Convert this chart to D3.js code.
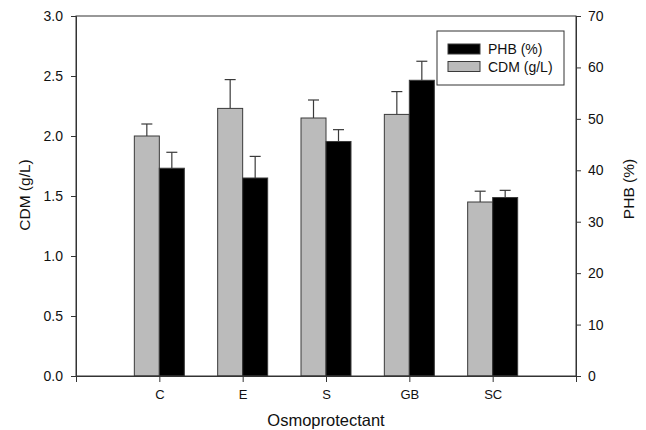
<!DOCTYPE html>
<html>
<head>
<meta charset="utf-8">
<script src="https://cdn.jsdelivr.net/npm/d3@7"></script>
<style>
  body { margin: 0; background: #fff; }
  svg { display: block; font-family: "Liberation Sans", Arial, sans-serif; }
</style>
</head>
<body>
<div id="chart"></div>
<script>
// data
var categories = ["C", "E", "S", "GB", "SC"];
var cdmValues = [2.00, 2.23, 2.15, 2.18, 1.45];
var cdmErrors = [0.10, 0.24, 0.15, 0.19, 0.09];
var phbValues = [40.4, 38.5, 45.6, 57.5, 34.7];
var phbErrors = [3.1, 4.2, 2.3, 3.7, 1.4];
var cdmTicks = [0, 0.5, 1.0, 1.5, 2.0, 2.5, 3.0];
var phbTicks = [0, 10, 20, 30, 40, 50, 60, 70];

var width = 646, height = 430;
var margin = {top: 16, right: 70, bottom: 54, left: 76};
var plotW = width - margin.left - margin.right;
var plotH = height - margin.top - margin.bottom;

var svg = d3.select("#chart")
  .append("svg")
    .attr("width", width)
    .attr("height", height);

var g = svg.append("g")
    .attr("transform", "translate(" + margin.left + "," + margin.top + ")");

// scales
var x = d3.scalePoint()
  .domain(categories)
  .range([0, plotW])
  .padding(1);

var barW = x.step() * 0.3;

var yL = d3.scaleLinear().domain([0, 3]).range([plotH, 0]);
var yR = d3.scaleLinear().domain([0, 70]).range([plotH, 0]);

var axisColor = "#333";
var barStroke = "#3a3a3a";

// error bars (behind bars)
function errBar(sel, xs, ys, es, scale) {
  categories.forEach(function(c, i) {
    var cx = xs(c);
    var top = scale(ys[i] + es[i]);
    var base = scale(ys[i]);
    sel.append("line")
      .attr("x1", cx).attr("x2", cx)
      .attr("y1", base).attr("y2", top)
      .attr("stroke", barStroke).attr("stroke-width", 1.2);
    sel.append("line")
      .attr("x1", cx - 5.5).attr("x2", cx + 5.5)
      .attr("y1", top).attr("y2", top)
      .attr("stroke", barStroke).attr("stroke-width", 1.2);
  });
}

var errG = g.append("g");
errBar(errG, function(c) { return x(c) - barW / 2; }, cdmValues, cdmErrors, yL);
errBar(errG, function(c) { return x(c) + barW / 2; }, phbValues, phbErrors, yR);

// CDM bars
g.selectAll(".cdm")
  .data(categories)
  .enter()
  .append("rect")
    .attr("class", "cdm")
    .attr("x", function(d) { return x(d) - barW; })
    .attr("y", function(d, i) { return yL(cdmValues[i]); })
    .attr("width", barW)
    .attr("height", function(d, i) { return plotH - yL(cdmValues[i]); })
    .attr("fill", "#bbbbbb")
    .attr("stroke", barStroke)
    .attr("stroke-width", 1);

// PHB bars
g.selectAll(".phb")
  .data(categories)
  .enter()
  .append("rect")
    .attr("class", "phb")
    .attr("x", function(d) { return x(d); })
    .attr("y", function(d, i) { return yR(phbValues[i]); })
    .attr("width", barW)
    .attr("height", function(d, i) { return plotH - yR(phbValues[i]); })
    .attr("fill", "#000")
    .attr("stroke", barStroke)
    .attr("stroke-width", 1);

// frame
g.append("rect")
  .attr("width", plotW).attr("height", plotH)
  .attr("fill", "none")
  .attr("stroke", axisColor).attr("stroke-width", 1);

// axes
var leftAxis = g.append("g")
  .call(d3.axisLeft(yL).tickValues(cdmTicks).tickFormat(d3.format(".1f")).tickSize(5).tickPadding(8));
var rightAxis = g.append("g")
  .attr("transform", "translate(" + plotW + ",0)")
  .call(d3.axisRight(yR).tickValues(phbTicks).tickSize(5).tickPadding(7));
var bottomAxis = g.append("g")
  .attr("transform", "translate(0," + plotH + ")")
  .call(d3.axisBottom(x).tickSize(6).tickPadding(8));

[leftAxis, rightAxis, bottomAxis].forEach(function(a) {
  a.select(".domain").attr("stroke", axisColor);
  a.selectAll(".tick line").attr("stroke", axisColor);
  a.selectAll("text")
    .style("font-size", "14px")
    .style("font-family", "Liberation Sans, Arial, sans-serif")
    .attr("fill", "#111");
});
bottomAxis.selectAll("text").style("font-size", "13px");

// axis titles
svg.append("text")
  .attr("transform", "translate(30,195)rotate(-90)")
  .attr("text-anchor", "middle")
  .style("font-size", "15.5px")
  .attr("fill", "#111")
  .text("CDM (g/L)");

svg.append("text")
  .attr("transform", "translate(634,189)rotate(-90)")
  .attr("text-anchor", "middle")
  .style("font-size", "15.5px")
  .attr("fill", "#111")
  .text("PHB (%)");

svg.append("text")
  .attr("x", margin.left + plotW / 2)
  .attr("y", 426)
  .attr("text-anchor", "middle")
  .style("font-size", "16.5px")
  .attr("fill", "#111")
  .text("Osmoprotectant");

// legend
var legend = svg.append("g").attr("transform", "translate(437,31)");
legend.append("rect")
  .attr("width", 127).attr("height", 54)
  .attr("fill", "#fff")
  .attr("stroke", axisColor).attr("stroke-width", 1);

var legendItems = [
  {label: "PHB (%)", fill: "#000"},
  {label: "CDM (g/L)", fill: "#bbbbbb"}
];
legendItems.forEach(function(d, i) {
  var yy = 13 + i * 17.5;
  legend.append("rect")
    .attr("x", 11).attr("y", yy)
    .attr("width", 32).attr("height", 10)
    .attr("fill", d.fill)
    .attr("stroke", barStroke);
  legend.append("text")
    .attr("x", 51).attr("y", yy + 10)
    .style("font-size", "14px")
    .attr("fill", "#111")
    .text(d.label);
});
</script>
</body>
</html>
